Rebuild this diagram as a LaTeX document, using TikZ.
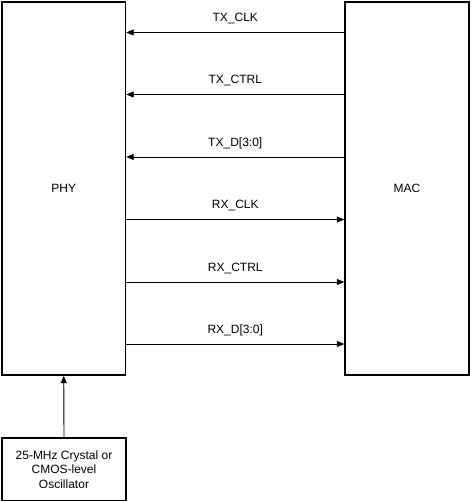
\documentclass[tikz,border=0pt]{standalone}
\usepackage{fontspec}
\setmainfont{Liberation Sans}
\usetikzlibrary{arrows.meta}
\begin{document}
\begin{tikzpicture}[x=1pt,y=-1pt,
  blk/.style={draw, line width=1.4pt, inner sep=0pt},
  sig/.style={line width=0.9pt, -{Triangle[length=7.5pt,width=6pt]}},
  lbl/.style={font=\fontsize{12}{14}\selectfont, anchor=base, inner sep=0pt}]
\useasboundingbox (0,0) rectangle (471,502);
\node[blk, minimum width=123.5pt, minimum height=373pt, font=\fontsize{12}{14}\selectfont] (phy) at (63.75,188.5) {PHY};
\node[blk, minimum width=124pt, minimum height=373pt, font=\fontsize{12}{14}\selectfont] (mac) at (407,188.5) {MAC};
\node[blk, minimum width=124pt, minimum height=62.5pt, align=center, font=\fontsize{12}{14.5}\selectfont] (osc) at (64,469.25) {25-MHz Crystal or\\CMOS-level\\Oscillator};
% TX signals (MAC -> PHY)
\foreach \nm/\yy/\tx in {txclk/32.5/TX\_CLK, txctrl/94.5/TX\_CTRL, txd/157/TX\_D[3:0]}{
  \coordinate (\nm s) at (mac.west |- 0,\yy);
  \coordinate (\nm e) at (phy.east |- 0,\yy);
  \draw[sig] (\nm s) -- (\nm e) node[lbl, midway, yshift=10.5pt] {\tx};
}
% RX signals (PHY -> MAC)
\foreach \nm/\yy/\tx in {rxclk/219.5/RX\_CLK, rxctrl/282/RX\_CTRL, rxd/344/RX\_D[3:0]}{
  \coordinate (\nm s) at (phy.east |- 0,\yy);
  \coordinate (\nm e) at (mac.west |- 0,\yy);
  \draw[sig] (\nm s) -- (\nm e) node[lbl, midway, yshift=10.5pt] {\tx};
}
\draw[sig] (osc.north) -- (phy.south);
\end{tikzpicture}
\end{document}
